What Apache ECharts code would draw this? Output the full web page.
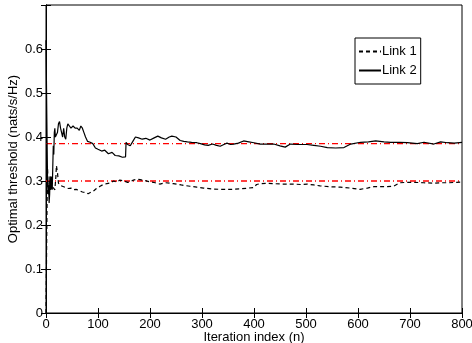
<!DOCTYPE html>
<html>
<head>
<meta charset="utf-8">
<script src="https://cdn.jsdelivr.net/npm/echarts@6/dist/echarts.min.js"></script>
<style>
  html, body { margin: 0; padding: 0; background: #fff; }
  #chart { width: 472px; height: 343px; }
</style>
</head>
<body>
<div id="chart"></div>
<script>
// values
const link1N = [0, 1, 2, 3, 4, 5, 6, 7, 8, 9, 10, 12, 14, 17, 19, 20, 22, 24, 27, 30, 34, 38, 43, 48, 53, 58, 63, 70, 76, 81, 87, 92, 97, 104, 110, 117, 124, 130, 136, 142, 150, 157, 162, 168, 175, 181, 190, 200, 210, 219, 230, 245, 260, 277, 290, 303, 318, 335, 355, 373, 390, 399, 405, 412, 425, 437, 455, 476, 490, 502, 515, 527, 545, 566, 585, 604, 618, 630, 650, 668, 681, 695, 707, 726, 745, 758, 775, 790, 800]
const link1Val = [0.0, 0.12, 0.24, 0.33, 0.29, 0.27, 0.30, 0.28, 0.31, 0.28, 0.29, 0.28, 0.285, 0.28, 0.31, 0.335, 0.32, 0.295, 0.29, 0.29, 0.287, 0.285, 0.283, 0.284, 0.280, 0.281, 0.279, 0.275, 0.274, 0.271, 0.275, 0.278, 0.283, 0.288, 0.292, 0.294, 0.296, 0.300, 0.298, 0.302, 0.300, 0.297, 0.298, 0.302, 0.304, 0.303, 0.301, 0.298, 0.296, 0.293, 0.296, 0.294, 0.291, 0.288, 0.286, 0.284, 0.282, 0.281, 0.281, 0.282, 0.284, 0.285, 0.292, 0.294, 0.295, 0.294, 0.293, 0.293, 0.292, 0.293, 0.291, 0.289, 0.287, 0.286, 0.284, 0.281, 0.284, 0.287, 0.287, 0.288, 0.296, 0.297, 0.297, 0.296, 0.295, 0.296, 0.296, 0.297, 0.298]

const link2N = [0, 1, 2, 3, 4, 5, 6, 7, 8, 9, 10, 11, 12, 13, 14, 15, 16, 17, 18, 20, 22, 24, 26, 28, 30, 32, 34, 36, 38, 40, 42, 45, 48, 52, 56, 60, 64, 67, 70, 73, 76, 80, 85, 90, 95, 100, 107, 113, 120, 127, 133, 140, 147, 153, 154, 157, 162, 167, 172, 178, 185, 192, 200, 208, 215, 222, 230, 237, 242, 250, 258, 265, 272, 280, 290, 297, 305, 312, 320, 328, 335, 342, 348, 355, 361, 370, 380, 390, 400, 412, 425, 438, 450, 460, 470, 485, 502, 515, 528, 541, 557, 573, 586, 605, 620, 634, 650, 663, 680, 695, 714, 727, 746, 759, 772, 785, 800]
const link2Val = [0.62, 0.62, 0.40, 0.30, 0.27, 0.29, 0.25, 0.27, 0.31, 0.28, 0.30, 0.31, 0.28, 0.33, 0.38, 0.36, 0.41, 0.42, 0.40, 0.40, 0.41, 0.43, 0.435, 0.42, 0.41, 0.40, 0.42, 0.40, 0.395, 0.42, 0.43, 0.425, 0.42, 0.425, 0.42, 0.42, 0.415, 0.425, 0.42, 0.41, 0.40, 0.39, 0.388, 0.385, 0.375, 0.372, 0.368, 0.370, 0.362, 0.365, 0.358, 0.357, 0.354, 0.355, 0.388, 0.383, 0.38, 0.39, 0.40, 0.398, 0.395, 0.397, 0.393, 0.398, 0.402, 0.398, 0.395, 0.400, 0.402, 0.400, 0.392, 0.390, 0.389, 0.388, 0.387, 0.385, 0.382, 0.381, 0.384, 0.381, 0.379, 0.383, 0.386, 0.383, 0.384, 0.386, 0.391, 0.389, 0.387, 0.384, 0.384, 0.384, 0.380, 0.377, 0.384, 0.383, 0.383, 0.381, 0.379, 0.376, 0.375, 0.376, 0.384, 0.388, 0.389, 0.391, 0.389, 0.388, 0.388, 0.387, 0.385, 0.388, 0.384, 0.389, 0.387, 0.386, 0.388]

// the two red dash-dot reference levels, drawn across the whole x range
const refLevels = [0.385, 0.3]
const refSpan = [0, 800]

const font = 'Liberation Sans, Arial, Helvetica, sans-serif'

const pairs = (xs, ys) => xs.map((x, i) => [x, ys[i]])

const myChart = echarts.init(document.getElementById('chart'))

const tickInside = { show: true, inside: true, length: 5, lineStyle: { color: '#000', width: 1 } }

const refSeries = refLevels.map((v, i) => ({
  name: 'ref' + i,
  type: 'line',
  data: refSpan.map(x => [x, v]),
  symbol: 'none',
  showSymbol: false,
  silent: true,
  z: 1,
  lineStyle: { color: '#ff0000', width: 1.3, type: [6, 3, 1, 3] },
  itemStyle: { color: '#ff0000' }
}))

const option = {
  animation: false,
  backgroundColor: '#fff',
  grid: {
    left: 46, right: 10, top: 5, bottom: 30,
    outerBoundsMode: 'none',
    containLabel: false,
    show: true, borderColor: '#000', borderWidth: 1, backgroundColor: 'transparent'
  },
  legend: {
    orient: 'vertical',
    left: 355,
    top: 38,
    data: ['Link 1', 'Link 2'],
    itemWidth: 22,
    itemHeight: 14,
    itemGap: 6,
    padding: [7, 4, 7, 3],
    borderColor: '#000',
    borderWidth: 1,
    borderRadius: 0,
    backgroundColor: '#fff',
    itemStyle: { color: 'transparent', borderWidth: 0, opacity: 0 },
    textStyle: { fontFamily: font, fontSize: 13, color: '#000', padding: [0, 0, 0, -4] }
  },
  xAxis: [
    {
      type: 'value',
      min: 0,
      max: 800,
      interval: 100,
      name: 'Iteration index (n)',
      nameLocation: 'middle',
      nameGap: 18,
      nameMoveOverlap: false,
      nameTextStyle: { fontFamily: font, fontSize: 13, color: '#000' },
      axisLine: { show: true, lineStyle: { color: '#000', width: 1 } },
      axisTick: tickInside,
      axisLabel: { fontFamily: font, fontSize: 13, color: '#000', margin: 5 },
      splitLine: { show: false }
    },
    {
      type: 'value',
      position: 'top',
      min: 0,
      max: 800,
      interval: 100,
      axisLine: { show: true, lineStyle: { color: '#000', width: 1 } },
      axisTick: tickInside,
      axisLabel: { show: false },
      splitLine: { show: false }
    }
  ],
  yAxis: [
    {
      type: 'value',
      min: 0,
      max: 0.7,
      interval: 0.1,
      name: 'Optimal threshold (nats/s/Hz)',
      nameLocation: 'middle',
      nameGap: 26,
      nameMoveOverlap: false,
      nameTextStyle: { fontFamily: font, fontSize: 13, color: '#000' },
      axisLine: { show: true, lineStyle: { color: '#000', width: 1 } },
      axisTick: tickInside,
      axisLabel: {
        fontFamily: font, fontSize: 13, color: '#000', margin: 3,
        formatter: v => (v > 0.65 ? '' : String(Math.round(v * 10) / 10))
      },
      splitLine: { show: false }
    },
    {
      type: 'value',
      position: 'right',
      min: 0,
      max: 0.7,
      interval: 0.1,
      axisLine: { show: true, lineStyle: { color: '#000', width: 1 } },
      axisTick: tickInside,
      axisLabel: { show: false },
      splitLine: { show: false }
    }
  ],
  series: [
    ...refSeries,
    {
      name: 'Link 1',
      type: 'line',
      data: pairs(link1N, link1Val),
      symbol: 'none',
      showSymbol: false,
      z: 2,
      lineStyle: { color: '#000', width: 1.2, type: [4, 3] },
      itemStyle: { color: '#000' }
    },
    {
      name: 'Link 2',
      type: 'line',
      data: pairs(link2N, link2Val),
      symbol: 'none',
      showSymbol: false,
      z: 2,
      lineStyle: { color: '#000', width: 1.2 },
      itemStyle: { color: '#000' }
    }
  ]
}

option && myChart.setOption(option)
</script>
</body>
</html>
